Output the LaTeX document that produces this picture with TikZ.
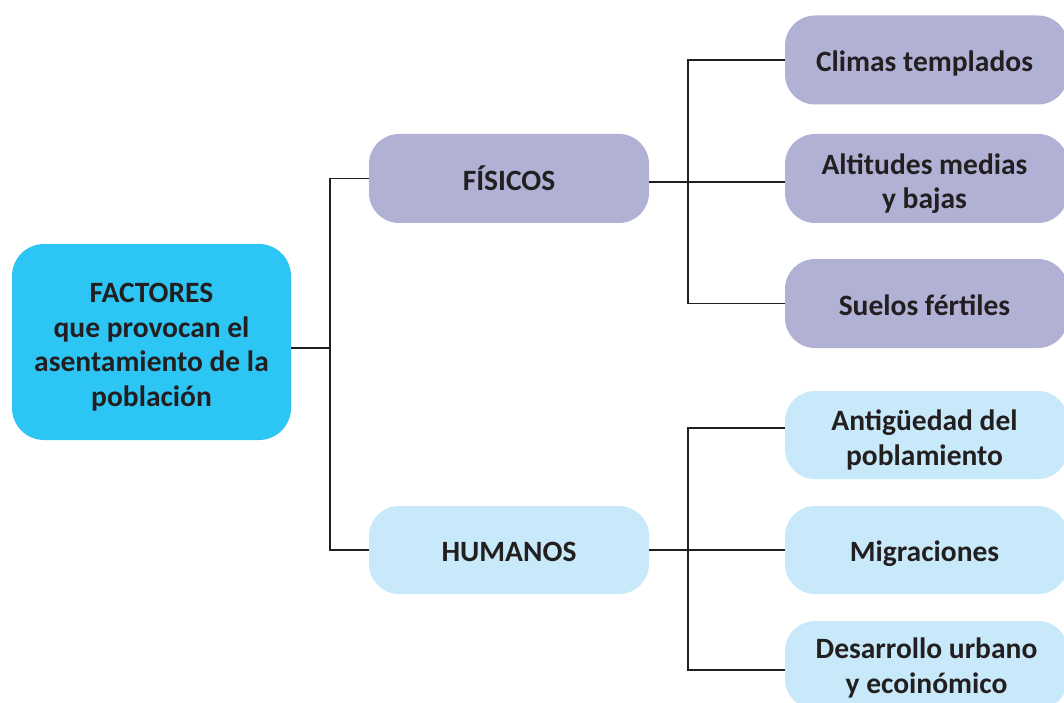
\documentclass[tikz,border=0pt]{standalone}
\usepackage{fontspec}
\setmainfont{Carlito}
\definecolor{txt}{HTML}{231F20}
\definecolor{mainc}{HTML}{2DC5F4}
\definecolor{purp}{HTML}{B0B1D5}
\definecolor{lblue}{HTML}{C7E9F9}
\begin{document}
\begin{tikzpicture}[x=1pt,y=-1pt,
  box/.style={rounded corners=30pt, inner sep=0pt, anchor=center},
  mainbox/.style={box, fill=mainc, minimum width=279pt, minimum height=196pt, rounded corners=32pt},
  purpbox/.style={box, fill=purp, minimum height=89pt},
  bluebox/.style={box, fill=lblue, minimum height=88pt},
  midw/.style={minimum width=280pt},
  leafw/.style={minimum width=283pt},
  lbl/.style={inner sep=0pt, text=txt, font=\fontsize{29.5}{34.5}\selectfont\bfseries, anchor=center},
  one/.style={lbl, text height=30pt, text depth=6.6pt},
  multi/.style={lbl, align=center, yshift=-5pt},
  conn/.style={draw=txt, line width=1.1pt}]
\useasboundingbox (0,0) rectangle (1064,703);
\clip (0,0) rectangle (1064,703);

\node[mainbox] (main) at (151.5,342) {};
\node[purpbox, midw] (fis) at (509,178.5) {};
\node[bluebox, midw] (hum) at (509,550) {};
\node[purpbox, leafw] (c1) at (926.5,60) {};
\node[purpbox, leafw] (c2) at (926.5,178.5) {};
\node[purpbox, leafw] (c3) at (926.5,303.5) {};
\node[bluebox, leafw] (h1) at (926.5,435) {};
\node[bluebox, leafw] (h2) at (926.5,550) {};
\node[bluebox, leafw] (h3) at (926.5,665) {};

\node[multi] (main-t) at (main) {FACTORES\\que provocan el\\asentamiento de la\\población};
\node[one] (fis-t) at (fis) {FÍSICOS};
\node[one] (hum-t) at (hum) {HUMANOS};
\node[one, xshift=-2pt] (c1-t) at (c1) {Climas templados};
\node[multi, xshift=-2pt] (c2-t) at (c2) {Altitudes medias\\y bajas};
\node[one, xshift=-2pt] (c3-t) at (c3) {Suelos fértiles};
\node[multi, xshift=-2pt] (h1-t) at (h1) {Antigüedad del\\poblamiento};
\node[one, xshift=-2pt] (h2-t) at (h2) {Migraciones};
\node[multi, yshift=2pt] (h3-t) at (h3) {Desarrollo urbano\\y ecoinómico};

\coordinate (ja) at (330,348);
\coordinate (jb) at (688,182);
\coordinate (jc) at (688,550);

\draw[conn] ([yshift=-6pt]main.east) -- (ja);
\draw[conn] (fis.west) -| (ja) |- (hum.west);
\draw[conn] ([yshift=-3.5pt]fis.east) -- (jb) -- ([yshift=-3.5pt]c2.west);
\draw[conn] (c1.west) -| (jb) |- (c3.west);
\draw[conn] (hum.east) -- (jc) -- (h2.west);
\draw[conn] ([yshift=7pt]h1.west) -| (jc) |- ([yshift=-5pt]h3.west);
\end{tikzpicture}
\end{document}
